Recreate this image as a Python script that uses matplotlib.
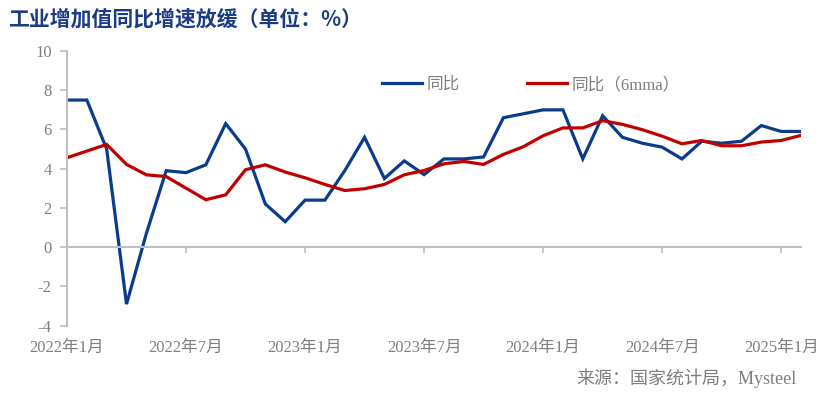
import matplotlib.pyplot as plt
from matplotlib.lines import Line2D
import matplotlib.transforms as mtransforms

plt.rcParams['font.family'] = ['Liberation Serif', 'Noto Sans CJK SC']
plt.rcParams['axes.unicode_minus'] = False

# monthly data, 2022-01 .. 2025-02
months = ['2022-01', '2022-02', '2022-03', '2022-04', '2022-05', '2022-06',
          '2022-07', '2022-08', '2022-09', '2022-10', '2022-11', '2022-12',
          '2023-01', '2023-02', '2023-03', '2023-04', '2023-05', '2023-06',
          '2023-07', '2023-08', '2023-09', '2023-10', '2023-11', '2023-12',
          '2024-01', '2024-02', '2024-03', '2024-04', '2024-05', '2024-06',
          '2024-07', '2024-08', '2024-09', '2024-10', '2024-11', '2024-12',
          '2025-01', '2025-02']
yoy = [7.5, 7.5, 5.0, -2.9, 0.7, 3.9, 3.8, 4.2, 6.3, 5.0, 2.2, 1.3,
       2.4, 2.4, 3.9, 5.6, 3.5, 4.4, 3.7, 4.5, 4.5, 4.6, 6.6, 6.8,
       7.0, 7.0, 4.5, 6.7, 5.6, 5.3, 5.1, 4.5, 5.4, 5.3, 5.4, 6.2,
       5.9, 5.9]
yoy_6mma = [4.56, 4.9, 5.24, 4.22, 3.69, 3.6, 3.01, 2.42, 2.67, 3.95, 4.2, 3.83,
            3.54, 3.2, 2.89, 2.98, 3.2, 3.69, 3.91, 4.25, 4.37, 4.22, 4.73, 5.12,
            5.68, 6.08, 6.08, 6.45, 6.26, 5.99, 5.66, 5.27, 5.44, 5.17, 5.17, 5.36,
            5.44, 5.7]
tick_idx = [0, 6, 12, 18, 24, 30, 36]
tick_labels = ['2022年1月', '2022年7月', '2023年1月', '2023年7月',
               '2024年1月', '2024年7月', '2025年1月']

blue = '#0A3C8C'
red = '#C00000'
gray = '#7F7F7F'
axis_gray = '#BFBFBF'

fig = plt.figure(figsize=(8.26, 3.96), dpi=100)
ax = fig.add_axes([67 / 826, 1 - 325.7 / 396, 734 / 826, 274.7 / 396])

x = list(range(len(months)))
ax.plot(x, yoy, color=blue, linewidth=2.3, solid_joinstyle='miter')
ax.plot(x, yoy_6mma, color=red, linewidth=2.3, solid_joinstyle='miter')

ax.set_xlim(0, len(months) - 1)
ax.set_ylim(-4, 10)
ax.set_yticks(range(-4, 11, 2))
ax.tick_params(axis='y', direction='out', length=5, width=1.2, color=axis_gray,
               labelcolor=gray, labelsize=12, pad=6)

ax.spines['top'].set_visible(False)
ax.spines['right'].set_visible(False)
ax.spines['left'].set_color(axis_gray)
ax.spines['left'].set_linewidth(1.5)
ax.spines['bottom'].set_position(('data', 0))
ax.spines['bottom'].set_color(axis_gray)
ax.spines['bottom'].set_linewidth(1.5)

ax.set_xticks(tick_idx)
ax.set_xticklabels([])
ax.tick_params(axis='x', direction='out', length=4, width=1.2, color=axis_gray)

trans = mtransforms.blended_transform_factory(ax.transData, ax.transAxes)
for i, lab in zip(tick_idx, tick_labels):
    ax.text(i, -0.08, lab, transform=trans, ha='center', va='center',
            fontsize=12, color=gray)

# legend
handles = [Line2D([], [], color=blue, linewidth=2.3),
           Line2D([], [], color=red, linewidth=2.3)]
fig.legend(handles, ['同比', '同比（6mma）'], loc='center left',
           bbox_to_anchor=(367 / 826, 1 - 85 / 396), ncol=2, frameon=False,
           fontsize=12, labelcolor=gray, handlelength=2.4, handletextpad=0.3,
           columnspacing=4.0)

fig.text(8 / 826, 1 - 19 / 396, '工业增加值同比增速放缓（单位：%）',
         fontsize=15, fontweight='bold', color='#1B3C84', va='center',
         family=['Noto Sans CJK SC', 'DejaVu Sans'])
fig.text(797 / 826, 1 - 378 / 396, '来源：国家统计局，Mysteel',
         fontsize=13, color=gray, ha='right', va='center')

fig.savefig('out.png', dpi=100)
